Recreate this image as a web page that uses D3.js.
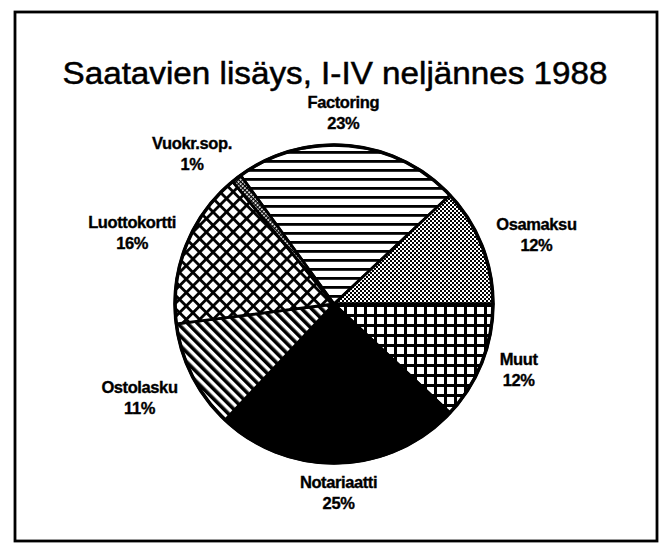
<!DOCTYPE html>
<html>
<head>
<meta charset="utf-8">
<script src="https://cdn.jsdelivr.net/npm/d3@7"></script>
<style>
  html, body { margin: 0; padding: 0; background: #fff; }
  svg { display: block; }
</style>
</head>
<body>
<svg id="chart" width="664" height="543"></svg>
<script>
// ---- data ----
const title = "Saatavien lisäys, I-IV neljännes 1988";
const categories = ["Factoring", "Osamaksu", "Muut", "Notariaatti", "Ostolasku", "Luottokortti", "Vuokr.sop."];
const values = [23, 12, 12, 25, 11, 16, 1];
const valueLabels = ["23%", "12%", "12%", "25%", "11%", "16%", "1%"];

// ---- layout ----
const W = 664, H = 543;
const cx = 334, cy = 304, R = 159;
const patternIds = ["p-hlines", "p-dots", "p-grid", "p-solid", "p-diag", "p-cross", "p-fine"];
const labelGap = 10;
const nudges = [[-10, -4], [8, 0], [10, -4], [-2, 0], [-10, 8], [-4, -2], [-14, -2]];

const svg = d3.select("#chart");
svg.append("rect").attr("width", W).attr("height", H).attr("fill", "#fff");

const defs = svg.append("defs");
function pat(id, w, h, transform) {
  const p = defs.append("pattern").attr("id", id)
    .attr("patternUnits", "userSpaceOnUse").attr("width", w).attr("height", h);
  if (transform) p.attr("patternTransform", transform);
  p.append("rect").attr("width", w).attr("height", h).attr("fill", "#fff");
  return p;
}
// horizontal lines
pat("p-hlines", 10, 9).append("rect").attr("y", 0).attr("width", 10).attr("height", 2.8).attr("fill", "#000");
// fine checker (grey dither)
{ const p = pat("p-dots", 4, 4);
  p.append("rect").attr("width", 2).attr("height", 2).attr("fill", "#000");
  p.append("rect").attr("x", 2).attr("y", 2).attr("width", 2).attr("height", 2).attr("fill", "#000"); }
// square grid
{ const p = pat("p-grid", 10, 10);
  p.append("rect").attr("width", 10).attr("height", 3).attr("fill", "#000");
  p.append("rect").attr("width", 3).attr("height", 10).attr("fill", "#000"); }
// solid
pat("p-solid", 4, 4).append("rect").attr("width", 4).attr("height", 4).attr("fill", "#000");
// diagonal "\" lines
pat("p-diag", 7, 7, "rotate(-45)").append("rect").attr("width", 3.6).attr("height", 7).attr("fill", "#000");
// diamond crosshatch
{ const p = pat("p-cross", 9.5, 9.5, "rotate(45)");
  p.append("rect").attr("width", 9.5).attr("height", 2.8).attr("fill", "#000");
  p.append("rect").attr("width", 2.8).attr("height", 9.5).attr("fill", "#000"); }
// fine crosshatch
{ const p = pat("p-fine", 3, 3, "rotate(45)");
  p.append("rect").attr("width", 3).attr("height", 1.2).attr("fill", "#000");
  p.append("rect").attr("width", 1.2).attr("height", 3).attr("fill", "#000"); }

// frame
svg.append("rect").attr("x", 15).attr("y", 12).attr("width", 642).attr("height", 529)
  .attr("fill", "none").attr("stroke", "#000").attr("stroke-width", 2.8);

// title
svg.append("text").attr("x", 335).attr("y", 84).attr("text-anchor", "middle")
  .attr("font-family", "Liberation Sans, Arial, sans-serif").attr("font-size", 31)
  .attr("textLength", 545).attr("lengthAdjust", "spacingAndGlyphs")
  .attr("fill", "#000").attr("stroke", "#000").attr("stroke-width", 0.5)
  .text(title);

const data = categories.map((c, i) => ({ name: c, value: values[i], label: valueLabels[i], i }));
const pie = d3.pie().value(d => d.value).sort(null)
  .startAngle(-36 * Math.PI / 180).endAngle((360 - 36) * Math.PI / 180);
const arcs = pie(data);
const arc = d3.arc().innerRadius(0).outerRadius(R);

const g = svg.append("g").attr("transform", `translate(${cx},${cy})`);
g.selectAll("path.slice").data(arcs).join("path").attr("class", "slice")
  .attr("d", arc)
  .attr("fill", d => `url(#${patternIds[d.data.i]})`)
  .attr("stroke", "#000").attr("stroke-width", 2.8).attr("stroke-linejoin", "round");
g.append("circle").attr("r", R).attr("fill", "none").attr("stroke", "#000").attr("stroke-width", 3.5);

// labels
const lg = svg.append("g");
arcs.forEach(a => {
  const th = (a.startAngle + a.endAngle) / 2;
  const s = Math.sin(th), c = -Math.cos(th);
  const t = lg.append("text").attr("text-anchor", "middle")
    .attr("font-family", "Liberation Sans, Arial, sans-serif")
    .attr("font-weight", "bold").attr("font-size", 16.5).attr("letter-spacing", -0.4)
    .attr("fill", "#000").attr("stroke", "#000").attr("stroke-width", 0.35);
  t.append("tspan").attr("x", 0).attr("dy", 0).text(a.data.name);
  t.append("tspan").attr("x", 0).attr("dy", 21).text(a.data.label);
  const bb = t.node().getBBox();
  const px = cx + (R + labelGap) * s, py = cy + (R + labelGap) * c;
  const bx = px + s * bb.width / 2, by = py + c * bb.height / 2;
  const n = nudges[a.data.i];
  const ox = bx - (bb.x + bb.width / 2) + n[0];
  const oy = by - (bb.y + bb.height / 2) + n[1];
  t.attr("transform", `translate(${ox},${oy})`);
});
</script>
</body>
</html>
